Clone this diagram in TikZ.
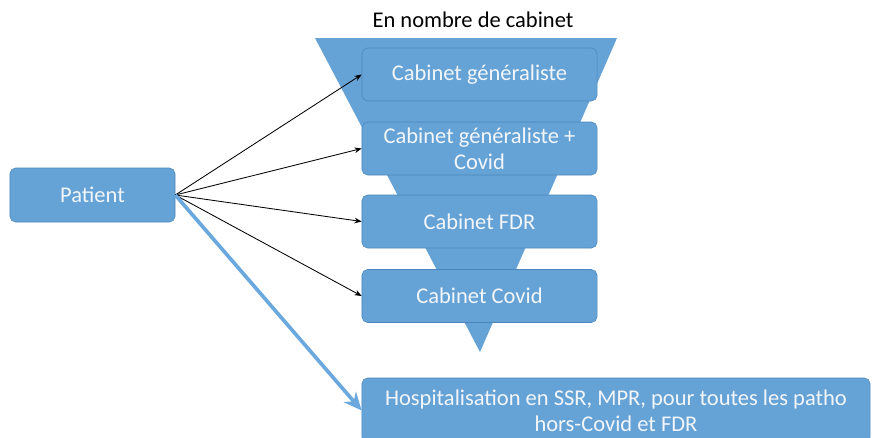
\documentclass[tikz,border=0pt]{standalone}
\usepackage{fontspec}
\setmainfont{Carlito}
\usetikzlibrary{arrows.meta, positioning}
\definecolor{boxfill}{HTML}{65A2D6}
\definecolor{boxline}{HTML}{4A86BC}
\definecolor{arrowblue}{HTML}{6AA8DE}
\definecolor{boxtext}{HTML}{F2F6FA}

\begin{document}
\begin{tikzpicture}[
  x=0.025cm, y=-0.025cm,
  font=\fontsize{16}{18.8}\selectfont,
  >={Stealth[length=1.8mm, width=1.4mm]},
  box/.style={draw=boxline, fill=boxfill, rounded corners=4pt, text=boxtext,
    minimum width=5.875cm, minimum height=1.325cm, inner sep=1pt, align=center},
  link/.style={->, semithick, black}
]
\useasboundingbox (0,0) rectangle (876,437);
% funnel behind the boxes
\fill[boxfill] (315,38) -- (617,38) -- (480,352) -- cycle;
\node (title) at (473,20) {En nombre de cabinet};
\node[box, minimum width=4.125cm, minimum height=1.35cm] (patient) at (92.5,195) {Patient};
\node[box] (c1) at (479.5,74.5) {Cabinet généraliste};
\node[box] (c2) at (479.5,148.5) {Cabinet généraliste +\\Covid};
\node[box] (c3) at (479.5,221.5) {Cabinet FDR};
\node[box] (c4) at (479.5,296) {Cabinet Covid};
\node[box, minimum width=12.7cm, minimum height=1.625cm] (hosp) at (616,410.5)
  {Hospitalisation en SSR, MPR, pour toutes les patho\\hors-Covid et FDR};
\draw[link] (patient.east) -- (c1.west);
\draw[link] (patient.east) -- (c2.west);
\draw[link] (patient.east) -- (c3.west);
\draw[link] (patient.east) -- (c4.west);
\draw[arrowblue, line width=2.6pt, -{Stealth[length=4.5mm, width=4mm]}] (patient.east) -- (hosp.west);
\end{tikzpicture}
\end{document}
